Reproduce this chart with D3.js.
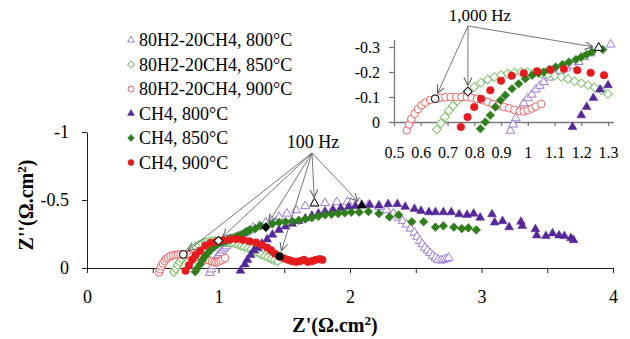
<!DOCTYPE html>
<html>
<head>
<meta charset="utf-8">
<script src="https://cdn.jsdelivr.net/npm/d3@7"></script>
<style>
body { margin: 0; background: #fff; }
text { font-family: "Liberation Serif", "Times New Roman", serif; fill: #000; }
</style>
</head>
<body>
<div id="mainDiv"></div>
<script>
'use strict';

// [Z', Z''] in ohm.cm2, high to low frequency
var h2_800 = [[0.935,0.035],[0.945,0.01],[0.955,-0.015],[0.97,-0.045],[0.985,-0.075],[1.0,-0.095],[1.015,-0.11],
  [1.03,-0.13],[1.045,-0.145],[1.06,-0.16],[1.08,-0.178],[1.10,-0.192],[1.12,-0.205],[1.145,-0.215],[1.17,-0.225],
  [1.19,-0.24],[1.21,-0.26],[1.235,-0.275],[1.265,-0.297],[1.31,-0.31],[1.36,-0.335],[1.40,-0.35],[1.46,-0.375],
  [1.52,-0.40],[1.59,-0.425],[1.66,-0.455],[1.73,-0.475],[1.81,-0.478],[1.90,-0.485],[1.98,-0.487],[2.07,-0.48],
  [2.14,-0.465],[2.22,-0.45],[2.28,-0.425],[2.33,-0.40],[2.37,-0.37],[2.40,-0.345],[2.43,-0.32],[2.46,-0.29],
  [2.49,-0.26],[2.51,-0.23],[2.53,-0.20],[2.55,-0.175],[2.57,-0.15],[2.59,-0.13],[2.61,-0.11],[2.63,-0.09],
  [2.65,-0.075],[2.67,-0.06],[2.69,-0.055],[2.71,-0.06],[2.73,-0.065],[2.75,-0.075]];

var h2_850 = [[0.66,0.03],[0.675,0.005],[0.69,-0.02],[0.705,-0.045],[0.72,-0.065],[0.737,-0.085],[0.755,-0.1],
  [0.776,-0.122],[0.80,-0.14],[0.825,-0.157],[0.85,-0.17],[0.875,-0.18],[0.90,-0.188],[0.925,-0.194],[0.95,-0.198],
  [0.975,-0.2],[1.0,-0.2],[1.025,-0.198],[1.05,-0.194],[1.075,-0.19],[1.10,-0.185],[1.125,-0.18],[1.15,-0.172],
  [1.175,-0.163],[1.20,-0.155],[1.225,-0.147],[1.25,-0.138],[1.275,-0.127],[1.30,-0.112],[1.325,-0.1],
  [1.35,-0.088],[1.375,-0.077],[1.40,-0.067],[1.425,-0.058],[1.45,-0.05]];

var h2_900 = [[0.548,0.033],[0.556,0.01],[0.565,-0.012],[0.577,-0.033],[0.59,-0.052],[0.603,-0.067],[0.617,-0.078],
  [0.635,-0.088],[0.654,-0.093],[0.673,-0.097],[0.692,-0.099],[0.712,-0.1],[0.732,-0.1],[0.752,-0.1],[0.772,-0.099],
  [0.79,-0.097],[0.81,-0.093],[0.83,-0.087],[0.85,-0.08],[0.87,-0.072],[0.89,-0.065],[0.91,-0.06],[0.93,-0.055],
  [0.95,-0.049],[0.97,-0.043],[0.985,-0.042],[1.0,-0.047],[1.015,-0.054],[1.03,-0.062],[1.05,-0.072]];

var ch4_800 = [[1.167,0.02],[1.20,-0.027],[1.22,-0.06],[1.245,-0.096],[1.27,-0.13],[1.30,-0.147],[1.33,-0.18],
  [1.37,-0.21],[1.41,-0.245],[1.46,-0.28],[1.51,-0.305],[1.56,-0.325],[1.61,-0.345],[1.66,-0.365],[1.71,-0.385],
  [1.76,-0.40],[1.81,-0.415],[1.87,-0.43],[1.93,-0.44],[1.99,-0.45],[2.04,-0.455],[2.09,-0.46],[2.15,-0.465],
  [2.22,-0.46],[2.29,-0.47],[2.36,-0.47],[2.42,-0.45],[2.49,-0.435],[2.54,-0.42],[2.60,-0.41],[2.65,-0.41],
  [2.71,-0.41],[2.77,-0.41],[2.83,-0.395],[2.89,-0.39],[2.94,-0.40],[2.99,-0.37],[3.08,-0.395],[3.10,-0.335],
  [3.16,-0.345],[3.21,-0.30],[3.30,-0.34],[3.31,-0.31],[3.41,-0.285],[3.42,-0.24],[3.49,-0.235],[3.54,-0.255],
  [3.59,-0.24],[3.63,-0.235],[3.68,-0.22],[3.70,-0.205]];

var ch4_850 = [[0.823,0.027],[0.841,0.0],[0.86,-0.027],[0.879,-0.06],[0.898,-0.087],[0.916,-0.107],[0.941,-0.133],
  [0.966,-0.153],[0.991,-0.173],[1.016,-0.187],[1.04,-0.195],[1.06,-0.2],[1.08,-0.21],[1.104,-0.22],[1.13,-0.23],
  [1.154,-0.24],[1.18,-0.25],[1.20,-0.26],[1.22,-0.27],[1.24,-0.28],[1.28,-0.29],[1.32,-0.31],[1.36,-0.30],
  [1.41,-0.325],[1.46,-0.335],[1.51,-0.34],[1.56,-0.345],[1.61,-0.35],[1.66,-0.36],[1.71,-0.37],[1.76,-0.38],
  [1.81,-0.39],[1.86,-0.395],[1.91,-0.40],[1.96,-0.405],[2.01,-0.41],[2.07,-0.41],[2.14,-0.415],[2.22,-0.40],
  [2.30,-0.375],[2.37,-0.39],[2.47,-0.34],[2.56,-0.34],[2.65,-0.30],[2.71,-0.31],[2.79,-0.30],[2.85,-0.29],
  [2.90,-0.295],[2.96,-0.28]];

var ch4_900 = [[0.75,0.02],[0.775,-0.02],[0.80,-0.06],[0.825,-0.093],[0.86,-0.127],[0.90,-0.165],[0.94,-0.185],
  [0.985,-0.195],[1.035,-0.203],[1.085,-0.209],[1.135,-0.212],[1.185,-0.207],[1.235,-0.197],[1.285,-0.187],
  [1.33,-0.17],[1.37,-0.15],[1.40,-0.13],[1.43,-0.105],[1.465,-0.085],[1.50,-0.07],[1.53,-0.06],[1.56,-0.05],
  [1.59,-0.045],[1.62,-0.05],[1.65,-0.06],[1.68,-0.045],[1.71,-0.05],[1.74,-0.06],[1.77,-0.065],[1.79,-0.06]];

var legendNames = ['80H2-20CH4, 800°C', '80H2-20CH4, 850°C', '80H2-20CH4, 900°C',
                   'CH4, 800°C', 'CH4, 850°C', 'CH4, 900°C'];

// Z' of the points picked out at 1 kHz and 100 Hz
var hz1000 = [['h2_900', 0.654], ['h2_850', 0.776], ['h2_800', 1.265]];
var hz100  = [['h2_900', 0.732], ['h2_850', 1.0], ['ch4_850', 1.36], ['ch4_900', 1.465],
              ['h2_800', 1.73], ['ch4_800', 2.09]];

var xTicks      = [0, 0.5, 1, 1.5, 2, 2.5, 3, 3.5, 4];
var yTicks      = [0, -0.5, -1];
var insetXTicks = [0.5, 0.6, 0.7, 0.8, 0.9, 1, 1.1, 1.2, 1.3];
var insetYTicks = [0, -0.1, -0.2, -0.3];

var chart = {};
chart.width = 630;
chart.height = 339;

chart.dataByKey = {h2_800: h2_800, h2_850: h2_850, h2_900: h2_900,
                   ch4_800: ch4_800, ch4_850: ch4_850, ch4_900: ch4_900};

chart.series = [
  {key: 'h2_800',  shape: 'tri',  color: '#9b7bd3', open: true},
  {key: 'h2_850',  shape: 'dia',  color: '#79c167', open: true},
  {key: 'h2_900',  shape: 'circ', color: '#ee6262', open: true},
  {key: 'ch4_800', shape: 'tri',  color: '#55279a', open: false},
  {key: 'ch4_850', shape: 'dia',  color: '#2f7e1c', open: false},
  {key: 'ch4_900', shape: 'circ', color: '#e41a1c', open: false}
];
chart.series.forEach(function(s, i){ s.name = legendNames[i]; s.data = chart.dataByKey[s.key]; });
chart.seriesByKey = {};
chart.series.forEach(function(s){ chart.seriesByKey[s.key] = s; });

chart.xScale = d3.scaleLinear().domain([0, 4]).range([87, 613]);
chart.yScale = d3.scaleLinear().domain([0, -1]).range([268, 132]);

chart.ixScale = d3.scaleLinear().domain([0.5, 1.32]).range([394, 613.4]);
chart.iyScale = d3.scaleLinear().domain([0, -0.33]).range([122, 39.5]);

chart.symbolPath = function(shape, scale){
    var k = scale || 1;
    if (shape === 'tri')  return d3.symbol().type(d3.symbolTriangle).size(34 * k)();
    if (shape === 'dia')  return d3.symbol().type(d3.symbolSquare).size(38 * k)();
    return d3.symbol().type(d3.symbolCircle).size(46 * k)();
};

chart.drawPoints = function(g, s, pts, xs, ys, k){
    g.selectAll(null)
        .data(pts)
        .enter().append('path')
        .attr('d', chart.symbolPath(s.shape, k))
        .attr('transform', function(d){
            return 'translate(' + xs(d[0]) + ',' + ys(d[1]) + ')' + (s.shape === 'dia' ? ' rotate(45)' : '');
        })
        .attr('fill', s.open ? '#fff' : s.color)
        .attr('stroke', s.color)
        .attr('stroke-width', s.open ? 1 : 0.5);
};

chart.findPoint = function(pair){
    var s = chart.seriesByKey[pair[0]];
    var p = s.data.reduce(function(a, b){ return Math.abs(b[0] - pair[1]) < Math.abs(a[0] - pair[1]) ? b : a; });
    return {s: s, p: p};
};

chart.drawHighlights = function(g, list, xs, ys){
    list.forEach(function(pair){
        var f = chart.findPoint(pair);
        var hs = {shape: f.s.shape, open: f.s.open, color: '#000'};
        chart.drawPoints(g, hs, [f.p], xs, ys, 1);
    });
};

chart.drawArrows = function(g, origin, list, xs, ys){
    list.forEach(function(pair){
        var f = chart.findPoint(pair);
        var tx = xs(f.p[0]), ty = ys(f.p[1]);
        var dx = tx - origin[0], dy = ty - origin[1];
        var len = Math.sqrt(dx * dx + dy * dy);
        var cut = 6;
        g.append('line')
            .attr('x1', origin[0]).attr('y1', origin[1])
            .attr('x2', tx - dx / len * cut).attr('y2', ty - dy / len * cut)
            .attr('stroke', '#666').attr('stroke-width', 0.9)
            .attr('marker-end', 'url(#arrowHead)');
    });
};

chart.start = function(){
    var svg = d3.select('#mainDiv').append('svg')
        .attr('width', chart.width).attr('height', chart.height);

    svg.append('defs').append('marker')
        .attr('id', 'arrowHead')
        .attr('markerUnits', 'userSpaceOnUse')
        .attr('markerWidth', 10).attr('markerHeight', 10)
        .attr('refX', 8).attr('refY', 4).attr('orient', 'auto')
        .append('path').attr('d', 'M0,0 L8,4 L0,8')
        .attr('fill', 'none').attr('stroke', '#555').attr('stroke-width', 1);

    // main axes
    var xAxis = d3.axisBottom(chart.xScale).tickValues(xTicks)
        .tickFormat(function(d){ return Number.isInteger(d) ? String(d) : ''; })
        .tickSize(5).tickSizeOuter(0).tickPadding(17);
    var gx = svg.append('g').attr('transform', 'translate(0,' + chart.yScale(0) + ')').call(xAxis);

    var yAxis = d3.axisLeft(chart.yScale).tickValues(yTicks)
        .tickFormat(function(d){ return String(d); })
        .tickSize(5).tickSizeOuter(0).tickPadding(13);
    var gy = svg.append('g').attr('transform', 'translate(' + chart.xScale(0) + ',0)').call(yAxis);

    [gx, gy].forEach(function(g){
        g.selectAll('path, line').attr('stroke', '#222');
        g.selectAll('text').style('font-size', '18px').attr('fill', '#000')
            .style('font-family', '"Liberation Serif", serif');
    });

    svg.append('text').attr('x', 335).attr('y', 332).attr('text-anchor', 'middle')
        .style('font-size', '20px').style('font-weight', 'bold')
        .html('Z\'(Ω.cm<tspan dy="-7" style="font-size:13px">2</tspan><tspan dy="7">)</tspan>');

    svg.append('text').attr('transform', 'translate(33,205) rotate(-90)').attr('text-anchor', 'middle')
        .style('font-size', '20px').style('font-weight', 'bold')
        .html('Z\'\'(Ω.cm<tspan dy="-7" style="font-size:13px">2</tspan><tspan dy="7">)</tspan>');

    // main points
    var gMain = svg.append('g');
    chart.series.forEach(function(s){
        chart.drawPoints(gMain.append('g'), s, s.data, chart.xScale, chart.yScale, 1);
    });
    chart.drawHighlights(gMain, hz100, chart.xScale, chart.yScale);

    // inset axes
    var ixAxis = d3.axisBottom(chart.ixScale).tickValues(insetXTicks)
        .tickFormat(function(d){ return String(d); })
        .tickSize(4).tickSizeOuter(0).tickPadding(21);
    var gix = svg.append('g').attr('transform', 'translate(0,' + chart.iyScale(0) + ')').call(ixAxis);
    var iyAxis = d3.axisLeft(chart.iyScale).tickValues(insetYTicks)
        .tickFormat(function(d){ return String(d); })
        .tickSize(5).tickSizeOuter(0).tickPadding(9);
    var giy = svg.append('g').attr('transform', 'translate(' + chart.ixScale(0.5) + ',0)').call(iyAxis);
    [gix, giy].forEach(function(g){
        g.selectAll('path, line').attr('stroke', '#777').attr('stroke-width', 1.3);
        g.selectAll('text').style('font-size', '16px').attr('fill', '#000')
            .style('font-family', '"Liberation Serif", serif');
    });

    // inset points, only those inside the zoomed window
    var gInset = svg.append('g');
    chart.series.forEach(function(s){
        var pts = s.data.filter(function(d){ return d[0] >= 0.5 && d[0] <= 1.315 && d[1] >= -0.31 && d[1] <= 0.05; });
        chart.drawPoints(gInset.append('g'), s, pts, chart.ixScale, chart.iyScale, 1);
    });
    chart.drawHighlights(gInset, hz1000, chart.ixScale, chart.iyScale);

    // frequency annotations
    svg.append('text').attr('x', 313).attr('y', 148).attr('text-anchor', 'middle')
        .style('font-size', '18px').text('100 Hz');
    chart.drawArrows(svg.append('g'), [312, 153], hz100, chart.xScale, chart.yScale);

    svg.append('text').attr('x', 480).attr('y', 21).attr('text-anchor', 'middle')
        .style('font-size', '17px').text('1,000 Hz');
    chart.drawArrows(svg.append('g'), [468, 26], hz1000, chart.ixScale, chart.iyScale);

    // legend
    var leg = svg.append('g');
    chart.series.forEach(function(s, i){
        var y = 40 + i * 24.5;
        chart.drawPoints(leg.append('g'), s, [[0, 0]],
            function(){ return 131; }, function(){ return y; }, 0.6);
        leg.append('text').attr('x', 139).attr('y', y + 6).style('font-size', '18px').text(s.name);
    });
};

window.onload = chart.start;
</script>
</body>
</html>
